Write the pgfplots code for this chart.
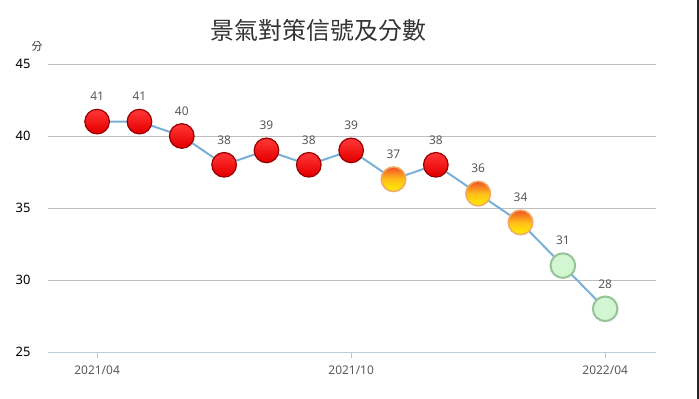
\documentclass[border=0pt]{standalone}
\usepackage{fontspec}
\setmainfont{Noto Sans}
\newfontfamily\cjk{Noto Sans CJK TC}
\usepackage{pgfplots}
\usepackage{pgfplotstable}
\pgfplotsset{compat=1.18}
\definecolor{linecol}{RGB}{122,176,216}
\definecolor{gridcol}{RGB}{191,191,191}
\definecolor{labgray}{RGB}{89,89,89}
\definecolor{reddark}{RGB}{150,0,0}
\definecolor{redtop}{RGB}{255,50,50}
\definecolor{redbot}{RGB}{230,0,0}
\definecolor{yeltop}{RGB}{240,80,40}
\definecolor{yelmid}{RGB}{255,190,25}
\definecolor{yelbot}{RGB}{255,240,0}
\definecolor{yelborder}{RGB}{240,170,100}
\definecolor{grnfill}{RGB}{210,245,210}
\definecolor{grnborder}{RGB}{150,195,150}
\definecolor{axiscol}{RGB}{190,204,218}

\pgfdeclareverticalshading{redshade}{100bp}{color(0bp)=(redbot); color(30bp)=(redbot); color(70bp)=(redtop); color(100bp)=(redtop)}
\pgfdeclareverticalshading{yelshade}{100bp}{color(0bp)=(yelbot); color(25bp)=(yelbot); color(50bp)=(yelmid); color(75bp)=(yeltop); color(100bp)=(yeltop)}
\pgfdeclareplotmark{redball}{\pgfpathcircle{\pgfpointorigin}{\pgfplotmarksize}\pgfshadepath{redshade}{0}\pgfusepath{stroke}}
\pgfdeclareplotmark{yelball}{\pgfpathcircle{\pgfpointorigin}{\pgfplotmarksize}\pgfshadepath{yelshade}{0}\pgfusepath{stroke}}

\pgfplotstableread{
x y
0 41
1 41
2 40
3 38
4 39
5 38
6 39
7 37
8 38
9 36
10 34
11 31
12 28
}\alldata
\pgfplotstableread{
x y
0 41
1 41
2 40
3 38
4 39
5 38
6 39
8 38
}\reddata
\pgfplotstableread{
x y
7 37
9 36
10 34
}\yeldata
\pgfplotstableread{
x y
11 31
12 28
}\grndata

\begin{document}
\begin{tikzpicture}
\path[use as bounding box] (-48bp,-47bp) rectangle (651bp,352bp);
\fill[black!85] (649bp,-47bp) rectangle (651bp,352bp);
\begin{axis}[
  at={(0,0)}, anchor=south west,
  scale only axis,
  width=608bp, height=288bp,
  xmin=-1.16, xmax=13.2,
  ymin=25, ymax=45,
  ytick={25,30,35,40,45},
  xtick={0,6,12},
  xticklabels={2021/04,2021/10,2022/04},
  axis line style={draw=none},
  ymajorgrids,
  grid style={gridcol, line width=0.8bp},
  ytick style={draw=none},
  xtick style={draw=gridcol, line width=0.8bp},
  tick align=outside,
  xtick pos=left,
  major tick length=6bp,
  /pgf/number format/assume math mode=true,
  yticklabel style={font=\fontsize{13}{15}\selectfont, text=black, xshift=-8bp},
  xticklabel style={font=\fontsize{12}{14}\selectfont, text=labgray, yshift=-4bp},
  title={\cjk 景氣對策信號及分數},
  title style={at={(rel axis cs:0.445,1.097)}, anchor=center, font=\fontsize{24}{27}\selectfont, text=black!80},
  ylabel={\cjk 分},
  ylabel style={rotate=-90, at={(rel axis cs:-0.018,1.0625)}, anchor=center, font=\fontsize{11}{13}\selectfont, text=black!80},
  clip=false,
]
\addplot[draw=axiscol, line width=1bp] coordinates {(-1.16,25) (13.2,25)};
\addplot[color=linecol, line width=2bp, mark=none,
  nodes near coords,
  every node near coord/.style={anchor=center, yshift=25bp, font=\fontsize{12}{14}\selectfont, text=labgray}]
  table[x=x,y=y] {\alldata};
\addplot[only marks, mark=redball, mark size=12.3bp,
  mark options={draw=reddark, line width=1.2bp}]
  table[x=x,y=y] {\reddata};
\addplot[only marks, mark=yelball, mark size=12.3bp,
  mark options={draw=yelborder, line width=1.5bp}]
  table[x=x,y=y] {\yeldata};
\addplot[only marks, mark=*, mark size=12.3bp,
  mark options={draw=grnborder, fill=grnfill, line width=2bp}]
  table[x=x,y=y] {\grndata};
\end{axis}
\end{tikzpicture}
\end{document}
